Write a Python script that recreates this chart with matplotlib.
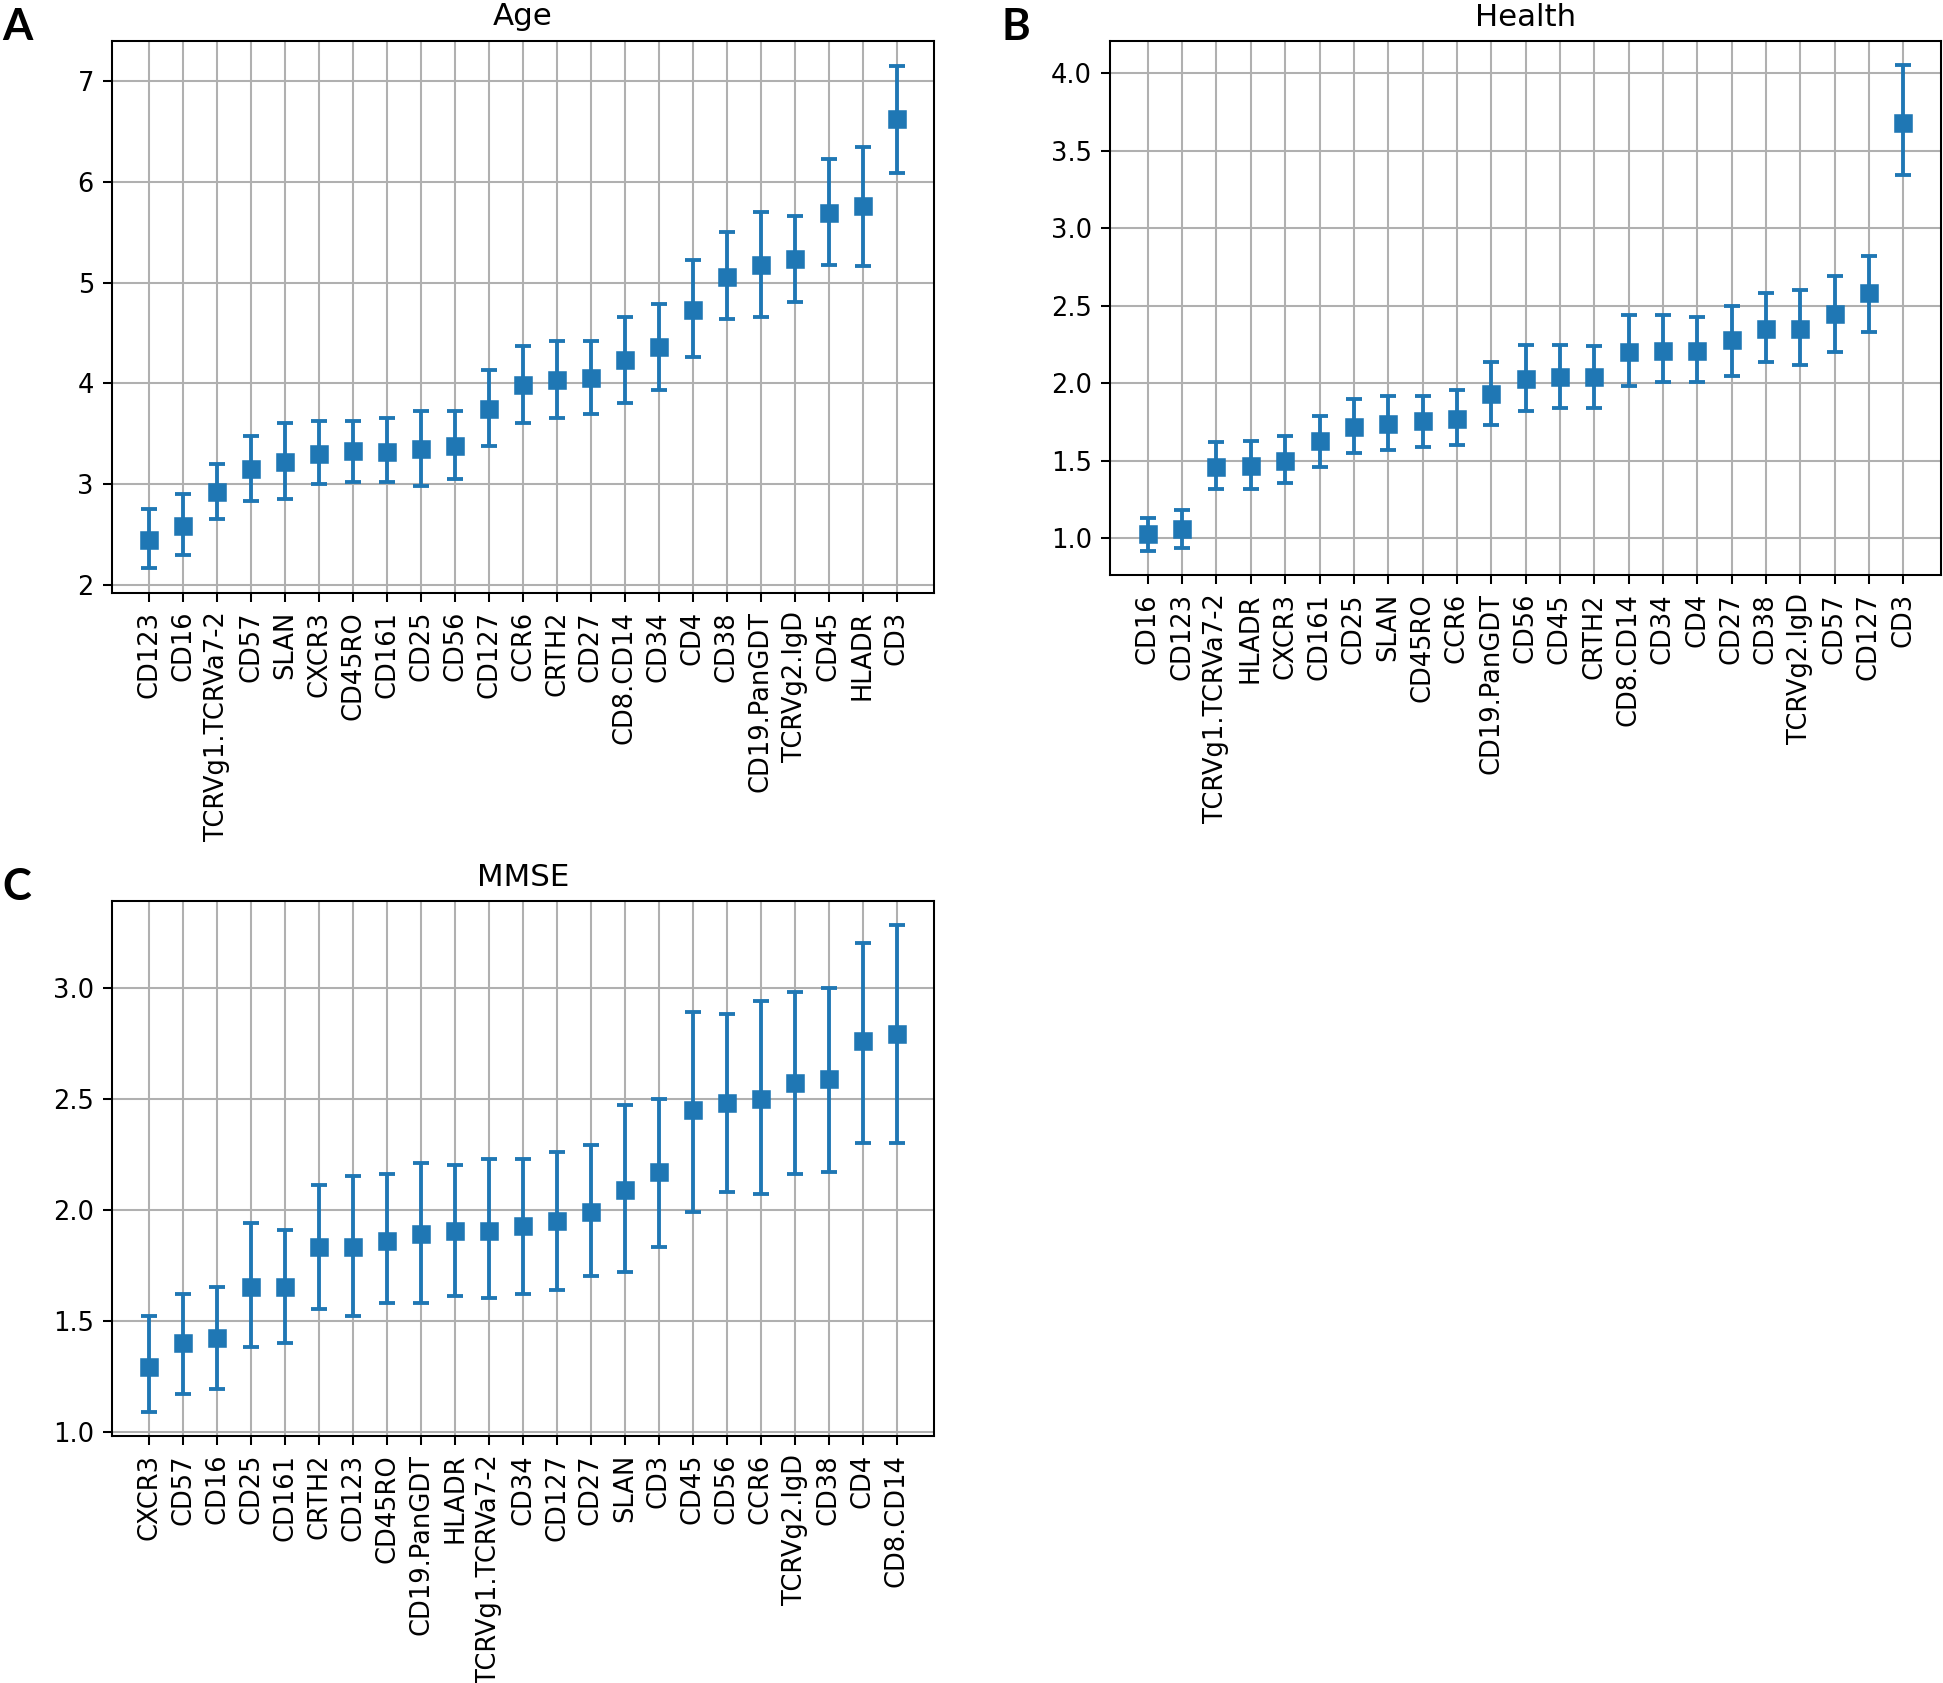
"""
Marker importance (mean with interval) for Age, Health and MMSE
"""
import numpy as np
import matplotlib
matplotlib.use("Agg")
import matplotlib.pyplot as plt

# ── data: A (Age)
age_labels = ["CD123", "CD16", "TCRVg1.TCRVa7-2", "CD57", "SLAN", "CXCR3", "CD45RO",
              "CD161", "CD25", "CD56", "CD127", "CCR6", "CRTH2", "CD27", "CD8.CD14",
              "CD34", "CD4", "CD38", "CD19.PanGDT", "TCRVg2.IgD", "CD45", "HLADR", "CD3"]
age_mean = [2.45, 2.59, 2.92, 3.15, 3.22, 3.30, 3.33, 3.32, 3.35, 3.38, 3.75, 3.98,
            4.03, 4.05, 4.23, 4.36, 4.73, 5.06, 5.18, 5.23, 5.69, 5.76, 6.62]
age_lo = [2.17, 2.30, 2.65, 2.83, 2.85, 3.00, 3.02, 3.02, 2.98, 3.05, 3.38, 3.61,
          3.66, 3.70, 3.81, 3.93, 4.26, 4.64, 4.66, 4.81, 5.18, 5.17, 6.09]
age_hi = [2.75, 2.90, 3.20, 3.48, 3.61, 3.63, 3.63, 3.66, 3.73, 3.73, 4.13, 4.37,
          4.42, 4.42, 4.66, 4.79, 5.22, 5.50, 5.70, 5.66, 6.23, 6.35, 7.15]

# ── data: B (Health)
health_labels = ["CD16", "CD123", "TCRVg1.TCRVa7-2", "HLADR", "CXCR3", "CD161", "CD25",
                 "SLAN", "CD45RO", "CCR6", "CD19.PanGDT", "CD56", "CD45", "CRTH2",
                 "CD8.CD14", "CD34", "CD4", "CD27", "CD38", "TCRVg2.IgD", "CD57",
                 "CD127", "CD3"]
health_mean = [1.03, 1.06, 1.46, 1.47, 1.50, 1.63, 1.72, 1.74, 1.76, 1.77, 1.93, 2.03,
               2.04, 2.04, 2.20, 2.21, 2.21, 2.28, 2.35, 2.35, 2.45, 2.58, 3.68]
health_lo = [0.92, 0.94, 1.32, 1.32, 1.36, 1.46, 1.55, 1.57, 1.59, 1.60, 1.73, 1.82,
             1.84, 1.84, 1.98, 2.01, 2.01, 2.05, 2.14, 2.12, 2.20, 2.33, 3.34]
health_hi = [1.13, 1.18, 1.62, 1.63, 1.66, 1.79, 1.90, 1.92, 1.92, 1.96, 2.14, 2.25,
             2.25, 2.24, 2.44, 2.44, 2.43, 2.50, 2.58, 2.60, 2.69, 2.82, 4.05]

# ── data: C (MMSE)
mmse_labels = ["CXCR3", "CD57", "CD16", "CD25", "CD161", "CRTH2", "CD123", "CD45RO",
               "CD19.PanGDT", "HLADR", "TCRVg1.TCRVa7-2", "CD34", "CD127", "CD27",
               "SLAN", "CD3", "CD45", "CD56", "CCR6", "TCRVg2.IgD", "CD38", "CD4",
               "CD8.CD14"]
mmse_mean = [1.29, 1.40, 1.42, 1.65, 1.65, 1.83, 1.83, 1.86, 1.89, 1.905, 1.905, 1.925,
             1.95, 1.99, 2.09, 2.17, 2.45, 2.48, 2.50, 2.57, 2.59, 2.76, 2.79]
mmse_lo = [1.09, 1.17, 1.19, 1.38, 1.40, 1.55, 1.52, 1.58, 1.58, 1.61, 1.60, 1.62,
           1.64, 1.70, 1.72, 1.83, 1.99, 2.08, 2.07, 2.16, 2.17, 2.30, 2.30]
mmse_hi = [1.52, 1.62, 1.65, 1.94, 1.91, 2.11, 2.15, 2.16, 2.21, 2.20, 2.23, 2.23,
           2.26, 2.29, 2.47, 2.50, 2.89, 2.88, 2.94, 2.98, 3.00, 3.20, 3.28]

DPI = 185
fig = plt.figure(figsize=(1944 / DPI, 1683 / DPI), dpi=DPI)
fig.patch.set_facecolor("white")


def draw_panel(rect, labels, mean, lo, hi, title):
    ax = fig.add_axes(rect)
    mean = np.array(mean)
    yerr = [mean - np.array(lo), np.array(hi) - mean]
    x = np.arange(len(labels))
    ax.errorbar(x, mean, yerr=yerr, fmt="s", color="#1f77b4", ms=6.5,
                lw=1.5, capsize=3, capthick=1.5, zorder=3)
    ax.set_xticks(x)
    ax.set_xticklabels(labels, rotation=90)
    ax.set_title(title)
    ax.grid(True)
    ax.set_axisbelow(True)
    return ax


# positions (figure fractions)
ax_a = draw_panel([0.0576, 0.6477, 0.4229, 0.3280], age_labels, age_mean, age_lo, age_hi, "Age")
ax_b = draw_panel([0.5710, 0.6583, 0.4275, 0.3173], health_labels, health_mean, health_lo, health_hi, "Health")
ax_c = draw_panel([0.0576, 0.1468, 0.4229, 0.3178], mmse_labels, mmse_mean, mmse_lo, mmse_hi, "MMSE")

ax_a.set_yticks([2, 3, 4, 5, 6, 7])
ax_b.set_yticks([1.0, 1.5, 2.0, 2.5, 3.0, 3.5, 4.0])
ax_c.set_yticks([1.0, 1.5, 2.0, 2.5, 3.0])

letter_kw = dict(fontsize=17, fontweight="bold", family=["Lato", "DejaVu Sans"], va="top", ha="left")
fig.text(0.001, 0.996, "A", **letter_kw)
fig.text(0.515, 0.996, "B", **letter_kw)
fig.text(0.001, 0.485, "C", **letter_kw)

fig.savefig("out.png", dpi=DPI, facecolor=fig.get_facecolor())
